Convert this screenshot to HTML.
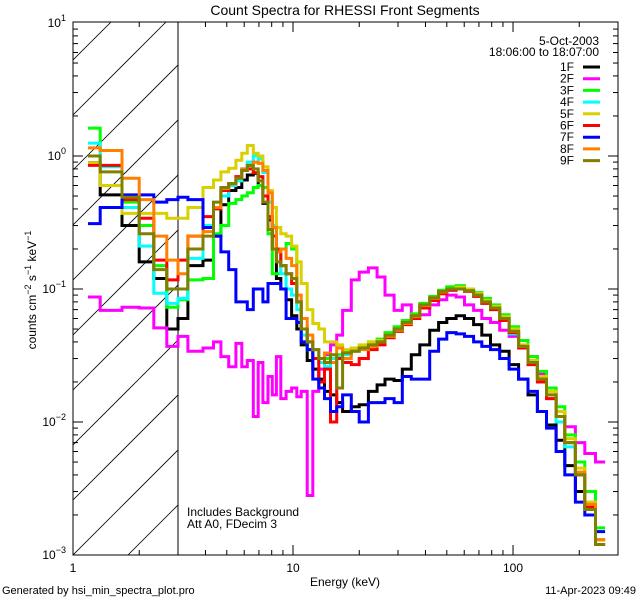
<!DOCTYPE html>
<html><head><meta charset="utf-8"><style>
html,body{margin:0;background:#fff;overflow:hidden;width:640px;height:600px;}
svg{display:block;font-family:"Liberation Sans",sans-serif;}
</style></head><body>
<svg id="chart" width="640" height="600" viewBox="0 0 640 600" xmlns="http://www.w3.org/2000/svg">
<rect width="640" height="600" fill="#fff"/>
<defs><clipPath id="hc"><rect x="73" y="22" width="105" height="533"/></clipPath>
<clipPath id="pc"><rect x="73" y="22" width="545" height="533"/></clipPath></defs>
<g id="hatch" clip-path="url(#hc)"></g>
<line x1="178" y1="22" x2="178" y2="555" stroke="#000" stroke-width="1"/>
<g id="series" clip-path="url(#pc)"></g>
<g id="axes"></g>
<text x="345" y="15" font-size="14" text-anchor="middle">Count Spectra for RHESSI Front Segments</text>
<text x="345" y="586" font-size="12" text-anchor="middle">Energy (keV)</text>
<text transform="translate(36,290) rotate(-90)" font-size="12" text-anchor="middle">counts cm<tspan dy="-5" font-size="9">−2</tspan><tspan dy="5"> s</tspan><tspan dy="-5" font-size="9">−1</tspan><tspan dy="5"> keV</tspan><tspan dy="-5" font-size="9">−1</tspan></text>
<text x="2" y="594" font-size="11">Generated by hsi_min_spectra_plot.pro</text>
<text x="636" y="594" font-size="11" text-anchor="end">11-Apr-2023 09:49</text>
<text x="187" y="516" font-size="12">Includes Background</text>
<text x="187" y="528" font-size="12">Att A0, FDecim 3</text>
<text x="599" y="45" font-size="12" text-anchor="end">5-Oct-2003</text>
<text x="599" y="56" font-size="12" text-anchor="end">18:06:00 to 18:07:00</text>
<g id="legend"></g>
</svg>
<script>
const edges=[1.17,1.33,1.67,2,2.33,2.67,3,3.33,3.9,4.35,4.7,5.1,5.5,5.85,6.2,6.6,6.95,7.3,7.7,8.05,8.4,8.8,9.3,9.85,10.4,10.9,11.6,12.3,13.1,13.9,14.8,15.8,16.8,18.4,20,22,24.1,26.2,28.8,31.4,34.5,37.7,41.8,45.9,50,55.1,60.2,66.2,72.1,79,87,96,106,117,129,142,157,172,192,212,237,262,292];
const names=["1F","2F","3F","4F","5F","6F","7F","8F","9F"];
const colors=["#000000","#ff00ff","#00ff00","#00ffff","#d8d000","#ff0000","#0000ff","#ff8000","#808000"];
const s1F=[0.89,0.51,0.30,0.16,0.12,0.05,0.06,0.15,0.165,0.25,0.43,0.55,0.58,0.66,0.72,0.74,0.6,0.44,0.33,0.2,0.12,0.1,0.083,0.063,0.05,0.038,0.029,0.025,0.021,0.017,0.016,0.014,0.012,0.013,0.0135,0.017,0.019,0.021,0.0205,0.025,0.032,0.038,0.049,0.056,0.06,0.063,0.06,0.054,0.045,0.038,0.034,0.027,0.021,0.016,0.012,0.0095,0.0073,0.0047,0.003,0.0024,0.0013];
const s2F=[0.087,0.069,0.073,0.072,0.051,0.037,0.044,0.034,0.036,0.04,0.031,0.026,0.039,0.026,0.029,0.011,0.028,0.014,0.022,0.016,0.031,0.015,0.017,0.018,0.0155,0.017,0.0028,0.017,0.025,0.032,0.038,0.045,0.069,0.117,0.134,0.144,0.123,0.09,0.069,0.076,0.064,0.064,0.076,0.083,0.09,0.087,0.076,0.069,0.06,0.056,0.049,0.044,0.037,0.031,0.023,0.018,0.012,0.0092,0.007,0.0058,0.005];
const s3F=[1.62,1.1,0.45,0.3,0.15,0.073,0.083,0.117,0.12,0.26,0.3,0.44,0.47,0.5,0.53,0.58,0.6,0.58,0.26,0.13,0.13,0.2,0.22,0.2,0.08,0.05,0.035,0.03,0.028,0.03,0.03,0.032,0.034,0.036,0.037,0.04,0.042,0.047,0.052,0.058,0.065,0.078,0.088,0.098,0.104,0.106,0.1,0.094,0.085,0.076,0.064,0.052,0.041,0.031,0.024,0.018,0.013,0.008,0.005,0.003,0.0016];
const s4F=[1.25,0.83,0.41,0.21,0.093,0.078,0.085,0.17,0.3,0.4,0.5,0.6,0.65,0.8,0.9,1.0,0.95,0.75,0.45,0.3,0.2,0.13,0.1,0.09,0.07,0.045,0.035,0.03,0.028,0.026,0.03,0.031,0.032,0.035,0.036,0.038,0.04,0.044,0.048,0.055,0.062,0.074,0.083,0.093,0.098,0.1,0.096,0.088,0.078,0.07,0.058,0.046,0.036,0.027,0.02,0.015,0.01,0.0065,0.004,0.0023,0.0012];
const s5F=[0.89,0.6,0.37,0.37,0.37,0.34,0.34,0.41,0.58,0.66,0.76,0.81,0.93,1.05,1.2,1.05,1.0,0.83,0.55,0.41,0.29,0.26,0.25,0.21,0.16,0.11,0.07,0.055,0.05,0.04,0.04,0.038,0.035,0.036,0.038,0.04,0.041,0.045,0.05,0.056,0.063,0.076,0.086,0.096,0.1,0.103,0.1,0.092,0.082,0.074,0.062,0.05,0.038,0.029,0.022,0.017,0.012,0.0075,0.0045,0.0025,0.0013];
const s6F=[0.85,0.85,0.47,0.34,0.165,0.117,0.165,0.25,0.35,0.4,0.55,0.62,0.7,0.78,0.8,0.75,0.7,0.5,0.35,0.25,0.2,0.15,0.13,0.11,0.08,0.05,0.04,0.03,0.02,0.025,0.01,0.03,0.028,0.027,0.03,0.035,0.038,0.043,0.048,0.054,0.06,0.072,0.082,0.092,0.098,0.1,0.096,0.088,0.078,0.07,0.058,0.047,0.036,0.027,0.02,0.015,0.011,0.007,0.004,0.0023,0.0012];
const s7F=[0.31,0.41,0.51,0.51,0.45,0.47,0.49,0.47,0.29,0.25,0.19,0.14,0.08,0.08,0.07,0.1,0.1,0.08,0.11,0.11,0.11,0.1,0.06,0.06,0.056,0.04,0.035,0.021,0.018,0.015,0.012,0.013,0.016,0.012,0.01,0.014,0.014,0.015,0.014,0.022,0.021,0.021,0.034,0.042,0.047,0.046,0.044,0.04,0.037,0.035,0.03,0.025,0.021,0.017,0.012,0.009,0.006,0.004,0.0025,0.002,0.0015];
const s8F=[1.15,1.1,0.68,0.47,0.25,0.165,0.13,0.25,0.27,0.41,0.57,0.62,0.68,0.8,0.85,0.9,0.88,0.78,0.53,0.29,0.19,0.2,0.17,0.15,0.09,0.06,0.045,0.035,0.03,0.033,0.028,0.036,0.03,0.034,0.035,0.037,0.04,0.044,0.049,0.055,0.062,0.075,0.085,0.095,0.1,0.1,0.097,0.09,0.08,0.072,0.06,0.048,0.037,0.028,0.021,0.016,0.011,0.007,0.0042,0.0024,0.0013];
const s9F=[1.0,0.76,0.49,0.26,0.14,0.1,0.1,0.2,0.25,0.45,0.58,0.62,0.68,0.78,0.85,0.8,0.65,0.45,0.28,0.2,0.16,0.15,0.13,0.12,0.08,0.05,0.04,0.035,0.03,0.028,0.032,0.018,0.033,0.034,0.036,0.038,0.04,0.045,0.05,0.056,0.063,0.076,0.086,0.096,0.1,0.1,0.097,0.09,0.08,0.072,0.06,0.048,0.037,0.028,0.021,0.016,0.011,0.007,0.004,0.0022,0.0012];
const allSeries=[s1F,s2F,s3F,s4F,s5F,s6F,s7F,s8F,s9F];
const yTickExp=[1,0,-1,-2,-3];
const xTickVals=[1,10,100];
const xTickLabels=["1","10","100"];

const NS="http://www.w3.org/2000/svg";
const X0=73,X1=618,Y0=22,Y1=555;
function xs(e){return X0+(X1-X0)*Math.log10(e)/Math.log10(300);}
function ys(v){return 156-133*Math.log10(v);}
function mk(tag,attrs,parent){const el=document.createElementNS(NS,tag);for(const k in attrs)el.setAttribute(k,attrs[k]);parent.appendChild(el);return el;}

const hatch=document.getElementById('hatch');
for(let k=-12;k<12;k++){
  const y0=555+k*55;
  const ln=mk('line',{x1:73,y1:y0,x2:73+600,y2:y0-600,stroke:'#000','stroke-width':0.8},hatch);
  
  
}

const sg=document.getElementById('series');
allSeries.forEach((vals,si)=>{
  let d='';
  vals.forEach((v,i)=>{
    const xa=xs(edges[i]).toFixed(1),xb=xs(edges[i+1]).toFixed(1),y=ys(v).toFixed(1);
    d+=(i===0?'M':'L')+xa+','+y+'L'+xb+','+y;
  });
  const p=mk('path',{d:d,fill:'none',stroke:colors[si],'stroke-width':3,'stroke-linejoin':'miter'},sg);
  
  
});

const ag=document.getElementById('axes');
const fr=mk('rect',{x:X0,y:Y0,width:X1-X0,height:Y1-Y0,fill:'none',stroke:'#000','stroke-width':1},ag);


for(let dec=0;dec<3;dec++){
  for(let m=1;m<10;m++){
    const e=m*Math.pow(10,dec); if(e>300)break;
    const x=xs(e); const L=m===1?10:5;
    if(m===1&&dec===0)continue;
    const t1=mk('line',{x1:x,y1:Y1,x2:x,y2:Y1-L,stroke:'#000'},ag);
    
    
    const t2=mk('line',{x1:x,y1:Y0,x2:x,y2:Y0+L,stroke:'#000'},ag);
    
    
  }
}
xTickVals.forEach((v,i)=>{
  const t=mk('text',{x:xs(v),y:572,'font-size':12,'text-anchor':'middle'},ag);
  t.textContent=xTickLabels[i];
  
  
});
for(let ex=-3;ex<1;ex++){
  for(let m=1;m<10;m++){
    const v=m*Math.pow(10,ex); const y=ys(v); const L=m===1?10:5;
    if(m===1&&ex===-3)continue;
    const t1=mk('line',{x1:X0,y1:y,x2:X0+L,y2:y,stroke:'#000'},ag);
    
    
    const t2=mk('line',{x1:X1,y1:y,x2:X1-L,y2:y,stroke:'#000'},ag);
    
    
  }
}
yTickExp.forEach(ex=>{
  const y=ys(Math.pow(10,ex));
  const t=mk('text',{x:66,y:y+4,'font-size':12,'text-anchor':'end'},ag);
  t.innerHTML='10<tspan dy="-6" font-size="9">'+(ex<0?'−'+(-ex):ex)+'</tspan>';
  
  
});

const lg=document.getElementById('legend');
names.forEach((n,i)=>{
  const y=67+i*11.7;
  const t=mk('text',{x:574,y:y+4,'font-size':12,'text-anchor':'end'},lg);
  t.textContent=n;
  
  
  const l=mk('line',{x1:583,y1:y,x2:600,y2:y,stroke:colors[i],'stroke-width':3},lg);
  
  
});
</script>
</body></html>
